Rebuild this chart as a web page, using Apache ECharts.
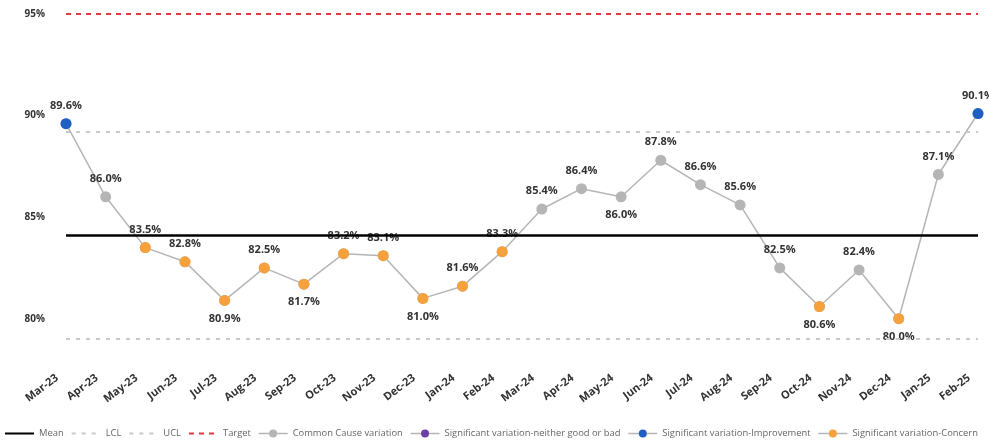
<!DOCTYPE html>
<html>
<head>
<meta charset="utf-8">
<script src="https://cdn.jsdelivr.net/npm/echarts@6/dist/echarts.min.js"></script>
<style>
  html, body { margin: 0; padding: 0; background: #fff; }
  #chart { width: 989px; height: 443px; }
</style>
</head>
<body>
<div id="chart"></div>
<script>
// Monthly performance with SPC control limits
const months = ['Mar-23','Apr-23','May-23','Jun-23','Jul-23','Aug-23','Sep-23','Oct-23','Nov-23','Dec-23',
  'Jan-24','Feb-24','Mar-24','Apr-24','May-24','Jun-24','Jul-24','Aug-24','Sep-24','Oct-24','Nov-24','Dec-24',
  'Jan-25','Feb-25'];
const rate = [89.6, 86.0, 83.5, 82.8, 80.9, 82.5, 81.7, 83.2, 83.1, 81.0,
  81.6, 83.3, 85.4, 86.4, 86.0, 87.8, 86.6, 85.6, 82.5, 80.6, 82.4, 80.0,
  87.1, 90.1];
// I = improvement, C = concern, N = neither, '-' = common cause
const signal = ['I','-','C','C','C','C','C','C','C','C',
  'C','C','-','-','-','-','-','-','-','C','-','C',
  '-','I'];
const MEAN = 84.1;
const LCL = 79.0;
const UCL = 89.2;
const TARGET = 95;
const yTicks = [80, 85, 90, 95];

const GREY = '#b5b5b5';
const ORANGE = '#f7a13c';
const BLUE = '#1f5fc4';
const PURPLE = '#6a3fa8';
const TXT = '#333';
const FONT = 'Open Sans';

function pick(code) {
  return rate.map((v, i) => signal[i] === code ? v : null);
}

// Labels sit under the point at local dips, above otherwise
function labelPos(i) {
  if (i === 0 || i === rate.length - 1) return 'top';
  return (rate[i] < rate[i - 1] && rate[i] < rate[i + 1]) ? 'bottom' : 'top';
}

function refLine(name, value, color, type, width) {
  return {
    name, type: 'line', data: [], symbol: 'none',
    lineStyle: { color, type, width },
    itemStyle: { color },
    markLine: {
      silent: true, symbol: 'none', label: { show: false },
      lineStyle: { color, type, width },
      data: [{ yAxis: value }]
    }
  };
}

function markerSeries(name, code, color) {
  return {
    name, type: 'line', data: pick(code), symbol: 'circle', symbolSize: 11,
    showAllSymbol: true, connectNulls: false, z: 5,
    itemStyle: { color },
    lineStyle: { width: 0, color }
  };
}

const noSymbol = { opacity: 0 };
const markerLine = { width: 1.5, color: GREY };

const chart = echarts.init(document.getElementById('chart'));
chart.setOption({
  animation: false,
  textStyle: { fontFamily: FONT },
  grid: { left: 66, right: 11, top: 14, bottom: 104 },
  legend: {
    bottom: 5, left: 4, width: 986, padding: 0,
    itemWidth: 29, itemHeight: 10, itemGap: 7,
    textStyle: { fontSize: 9.4, color: '#666', fontFamily: FONT },
    data: [
      { name: 'Mean', itemStyle: noSymbol },
      { name: 'LCL', itemStyle: noSymbol },
      { name: 'UCL', itemStyle: noSymbol },
      { name: 'Target', itemStyle: noSymbol },
      { name: 'Common Cause variation', lineStyle: markerLine },
      { name: 'Significant variation-neither good or bad', lineStyle: markerLine },
      { name: 'Significant variation-Improvement', lineStyle: markerLine },
      { name: 'Significant variation-Concern', lineStyle: markerLine }
    ]
  },
  xAxis: {
    type: 'category', data: months, boundaryGap: false,
    axisLine: { show: false }, axisTick: { show: false },
    axisLabel: {
      rotate: 37, interval: 0, fontSize: 11, fontWeight: 'bold', color: TXT,
      margin: 31, padding: [0, 11, 0, 0]
    }
  },
  yAxis: {
    type: 'value', min: 79, max: 95,
    splitLine: { show: false }, axisLine: { show: false }, axisTick: { show: false },
    axisLabel: {
      customValues: yTicks, formatter: v => v + '%',
      fontSize: 10, fontWeight: 'bold', color: TXT, margin: 21
    }
  },
  series: [
    refLine('Mean', MEAN, '#000', 'solid', 2.5),
    refLine('LCL', LCL, '#c9c9c9', [4, 6], 2),
    refLine('UCL', UCL, '#c9c9c9', [4, 6], 2),
    refLine('Target', TARGET, '#e0393e', [5, 5], 2),
    {
      name: 'Common Cause variation', type: 'line', data: rate.map((v, i) => ({
        value: v,
        label: { position: labelPos(i) }
      })),
      symbol: 'circle', symbolSize: 11, z: 4,
      itemStyle: { color: GREY },
      lineStyle: { color: GREY, width: 1.5 },
      label: {
        show: true, distance: 7, fontSize: 11, fontWeight: 'bold', color: TXT,
        formatter: p => p.value.toFixed(1) + '%'
      }
    },
    markerSeries('Significant variation-neither good or bad', 'N', PURPLE),
    markerSeries('Significant variation-Improvement', 'I', BLUE),
    markerSeries('Significant variation-Concern', 'C', ORANGE)
  ]
});
</script>
</body>
</html>
